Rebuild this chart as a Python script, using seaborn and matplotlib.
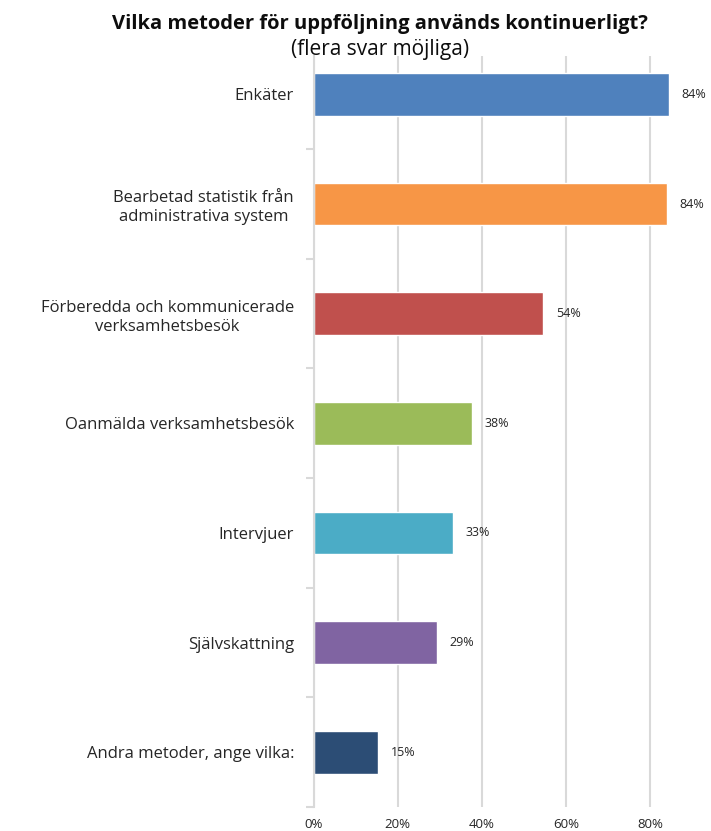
import pandas as pd
import matplotlib.pyplot as plt
import seaborn as sns
from matplotlib.ticker import PercentFormatter, FixedLocator

# data
categories = ['Enkäter',
              'Bearbetad statistik från\nadministrativa system',
              'Förberedda och kommunicerade\nverksamhetsbesök',
              'Oanmälda verksamhetsbesök',
              'Intervjuer',
              'Självskattning',
              'Andra metoder, ange vilka:']
values = [0.845, 0.841, 0.546, 0.377, 0.332, 0.294, 0.153]
labels = ['84%', '84%', '54%', '38%', '33%', '29%', '15%']
colors = ['#4F81BD', '#F79646', '#C0504D', '#9BBB59', '#4BACC6', '#8064A2', '#2C4D75']

df = pd.DataFrame({'Metod': categories, 'Andel': values})

sns.set_style('white')
plt.rcParams['font.family'] = ['Open Sans', 'DejaVu Sans']

fig = plt.figure(figsize=(7.11, 8.31), dpi=100)
ax = fig.add_axes([313.5 / 711, 1 - 807 / 831, (692 - 313.5) / 711, (807 - 56) / 831])

sns.barplot(data=df, y='Metod', x='Andel', hue='Metod', palette=colors,
            legend=False, orient='h', width=0.39, saturation=1, ax=ax)

ax.set_xlim(0, 0.9)
ax.set_ylim(6.5, -0.35)
ax.xaxis.set_major_locator(FixedLocator([0, 0.2, 0.4, 0.6, 0.8]))
ax.xaxis.set_major_formatter(PercentFormatter(1.0, decimals=0))
ax.grid(axis='x', color='#D9D9D9', linewidth=1.5)
ax.set_axisbelow(True)
for s in ['top', 'right', 'bottom']:
    ax.spines[s].set_visible(False)
ax.spines['left'].set_color('#D9D9D9')
ax.spines['left'].set_linewidth(1.5)

ax.set_xlabel('')
ax.set_ylabel('')
ax.tick_params(axis='x', length=0, labelsize=9.5, pad=8, colors='#262626')
ax.tick_params(axis='y', which='major', length=0, labelsize=12, pad=14, colors='#262626')
ax.yaxis.set_minor_locator(FixedLocator([i + 0.5 for i in range(7)]))
ax.tick_params(axis='y', which='minor', left=True, length=6, width=1.5, color='#D9D9D9')
for t in ax.get_yticklabels():
    t.set_multialignment('center')
    t.set_linespacing(1.25)

# value labels
for i, (v, lab) in enumerate(zip(values, labels)):
    ax.text(v + 0.03, i, lab, va='center', ha='left', fontsize=9, color='#262626')

fig.text(0.535, 0.971, 'Vilka metoder för uppföljning används kontinuerligt?',
         ha='center', va='center', fontsize=14.5, fontweight='bold', color='#0D0D0D')
fig.text(0.535, 0.941, '(flera svar möjliga)', ha='center', va='center',
         fontsize=15, color='#0D0D0D')

fig.savefig('out.png', dpi=100)
